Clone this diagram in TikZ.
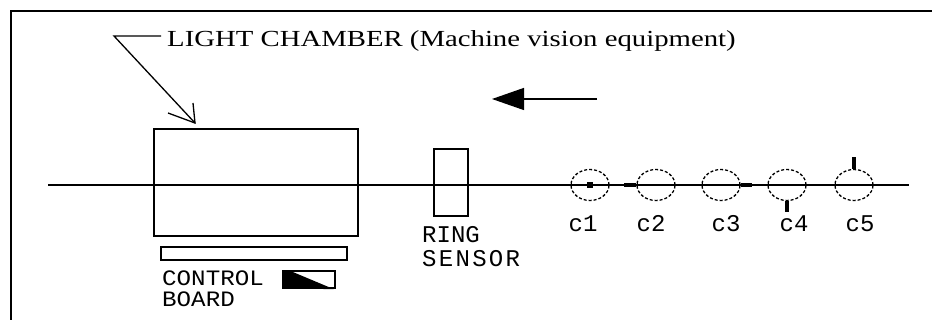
\documentclass[tikz,border=0pt]{standalone}
\usepackage{fontspec}
\setmainfont{Liberation Serif}
\newfontfamily\headfont[FakeStretch=1.25]{Liberation Serif}
\newfontfamily\monofont{Liberation Mono}
\newfontfamily\cbfont[FakeStretch=1.1]{Liberation Mono}
\usetikzlibrary{shapes.geometric,arrows.meta}
\begin{document}
\begin{tikzpicture}[x=1pt,y=-1pt,
  box/.style={draw,line width=1.5pt,rectangle,inner sep=0pt,anchor=center},
  part/.style={draw,line width=1.3pt,densely dashed,ellipse,inner sep=0pt,minimum width=38pt,minimum height=31pt},
  stub/.style={line width=4.5pt},
  thin/.style={line width=1.3pt},
  monolabel/.style={font=\monofont\fontsize{24}{24}\selectfont,inner sep=0pt},
  clabel/.style={monolabel,anchor=base}
]
\useasboundingbox (0,0) rectangle (932,320);
% frame
\coordinate (fTR) at (932,11);
\coordinate (fTL) at (11,11);
\coordinate (fBL) at (11,320);
\draw[line width=2pt] (fTR) -- (fTL) -- (fBL);
% main line
\coordinate (lineL) at (48,185);
\coordinate (lineR) at (909,185);
\draw[thin] (lineL) -- (lineR);
% light chamber
\node[box,minimum width=204pt,minimum height=107pt] (chamber) at (256,182.5) {};
% control board bar
\node[box,minimum width=186pt,minimum height=13pt] (bar) at (254,253.5) {};
% indicator
\node[box,line width=1.2pt,minimum width=52pt,minimum height=17pt] (ind) at (309,279.5) {};
\fill (ind.north west) -- ++(9,1) -- ([xshift=-2pt,yshift=-0.5pt]ind.south east) -- (ind.south west) -- cycle;
% ring sensor
\node[box,minimum width=34pt,minimum height=67pt] (ring) at (451,182.5) {};
% texts
\node[anchor=base west,inner sep=0pt,font=\headfont\fontsize{23}{23}\selectfont] (title) at (167,47) {LIGHT CHAMBER (Machine vision equipment)};
\node[monolabel,anchor=base west,align=left,font=\monofont\fontsize{24}{24}\selectfont] (ringlbl) at (422,267) {RING\\{\addfontfeature{LetterSpace=9.6}SENSOR}};
\node[monolabel,anchor=base west,align=left,font=\cbfont\fontsize{22}{21}\selectfont] (cblbl) at (162,307) {CONTROL\\BOARD};
% leader
\coordinate (lead) at (114,36);
\coordinate (tip) at (195,123);
\coordinate (barbA) at (168,113);
\coordinate (barbB) at (193,103);
\draw[thin] (title.west|-lead) ++(-6,0) coordinate (leadE) -- (lead) -- (tip);
\draw[thin] (barbA) -- (tip) -- (barbB);
% direction arrow
\coordinate (arrS) at (597,99);
\coordinate (arrT) at (492,99);
\draw[thin,-{Triangle[length=32pt,width=22pt]}] (arrS) -- (arrT);
% parts
\node[part] (c1) at (590,185) {};
\node[part] (c2) at (656,185) {};
\node[part] (c3) at (721,185) {};
\node[part] (c4) at (787,185) {};
\node[part] (c5) at (854,185) {};
\fill (c1.center) ++(-3,-3) rectangle ++(6,6);
\draw[stub] (c2.west) -- ++(-12,0);
\draw[stub] (c3.east) -- ++(11,0);
\draw[stub] (c4.south) -- ++(0,11);
\draw[stub] (c5.north) -- ++(0,-12);
% labels
\node[clabel] (l1) at (583,232) {c1};
\node[clabel] (l2) at (651,232) {c2};
\node[clabel] (l3) at (726,232) {c3};
\node[clabel] (l4) at (794,232) {c4};
\node[clabel] (l5) at (860,232) {c5};
\end{tikzpicture}
\end{document}
